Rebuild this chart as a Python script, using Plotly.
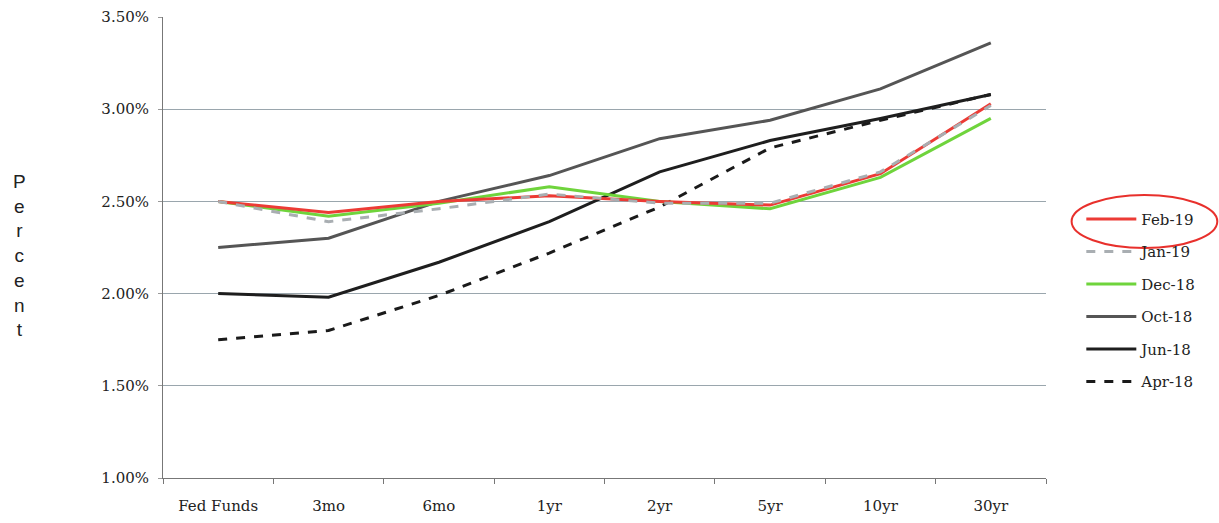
import plotly.graph_objects as go

maturities = ["Fed Funds", "3mo", "6mo", "1yr", "2yr", "5yr", "10yr", "30yr"]

feb_19 = [2.50, 2.44, 2.50, 2.53, 2.50, 2.48, 2.65, 3.03]
jan_19 = [2.50, 2.39, 2.46, 2.54, 2.49, 2.49, 2.66, 3.02]
dec_18 = [2.50, 2.42, 2.49, 2.58, 2.50, 2.46, 2.63, 2.95]
oct_18 = [2.25, 2.30, 2.50, 2.64, 2.84, 2.94, 3.11, 3.36]
jun_18 = [2.00, 1.98, 2.17, 2.39, 2.66, 2.83, 2.95, 3.08]
apr_18 = [1.75, 1.80, 1.99, 2.22, 2.47, 2.79, 2.94, 3.08]

y_ticks = [1.0, 1.5, 2.0, 2.5, 3.0, 3.5]
y_tick_labels = ["1.00%", "1.50%", "2.00%", "2.50%", "3.00%", "3.50%"]

# (name, values, colour, dash, legend position); drawn bottom to top
series = [
    ("Apr-18", apr_18, "#1a1a1a", "dash", 6),
    ("Jun-18", jun_18, "#1e1e1e", "solid", 5),
    ("Oct-18", oct_18, "#555555", "solid", 4),
    ("Dec-18", dec_18, "#6fd43c", "solid", 3),
    ("Feb-19", feb_19, "#ec3b35", "solid", 1),
    ("Jan-19", jan_19, "#a9aeb2", "dash", 2),
]

fig = go.Figure()
for name, vals, color, dash, rank in series:
    fig.add_trace(go.Scatter(
        x=maturities, y=vals, name=name, mode="lines",
        line=dict(color=color, width=3, dash=dash),
        legendrank=rank, legendgroup=name,
    ))

serif = "DejaVu Serif, Liberation Serif, serif"

fig.update_layout(
    width=1219, height=523,
    margin=dict(l=163, r=173, t=17, b=45, autoexpand=False),
    paper_bgcolor="white", plot_bgcolor="white",
    showlegend=True,
    legend=dict(
        x=1.04, y=0.597, xanchor="left", yanchor="top",
        font=dict(family=serif, size=15, color="#222"),
        tracegroupgap=10, itemwidth=50, bgcolor="rgba(0,0,0,0)",
    ),
    xaxis=dict(
        type="category", range=[-0.5, 7.5], automargin=False,
        showline=True, linecolor="#777", linewidth=1,
        ticks="outside", tickson="boundaries", ticklen=5, tickcolor="#777",
        showgrid=False, ticklabelstandoff=14,
        tickfont=dict(family=serif, size=15, color="#222"),
    ),
    yaxis=dict(
        range=[1.0, 3.5], tickvals=y_ticks, ticktext=y_tick_labels,
        automargin=False,
        showline=True, linecolor="#777", linewidth=1,
        ticks="outside", ticklen=4, tickcolor="#999",
        showgrid=True, gridcolor="#9aa6ad", gridwidth=1,
        zeroline=False, ticklabelstandoff=6,
        tickfont=dict(family=serif, size=15, color="#222"),
    ),
)

# vertical axis title, one letter per line
fig.add_annotation(
    text="<br>".join("Percent"), xref="paper", yref="paper",
    x=-0.162, y=0.483, xanchor="center", yanchor="middle", showarrow=False,
    font=dict(family="Liberation Sans, Arial, sans-serif", size=19, color="#222"),
    align="center",
)

# red ring around the latest curve's legend entry
fig.add_shape(
    type="circle", xref="paper", yref="paper",
    x0=1.029, x1=1.194, y0=0.499, y1=0.614,
    line=dict(color="#e8302c", width=2),
)

fig.write_html("out.html")
